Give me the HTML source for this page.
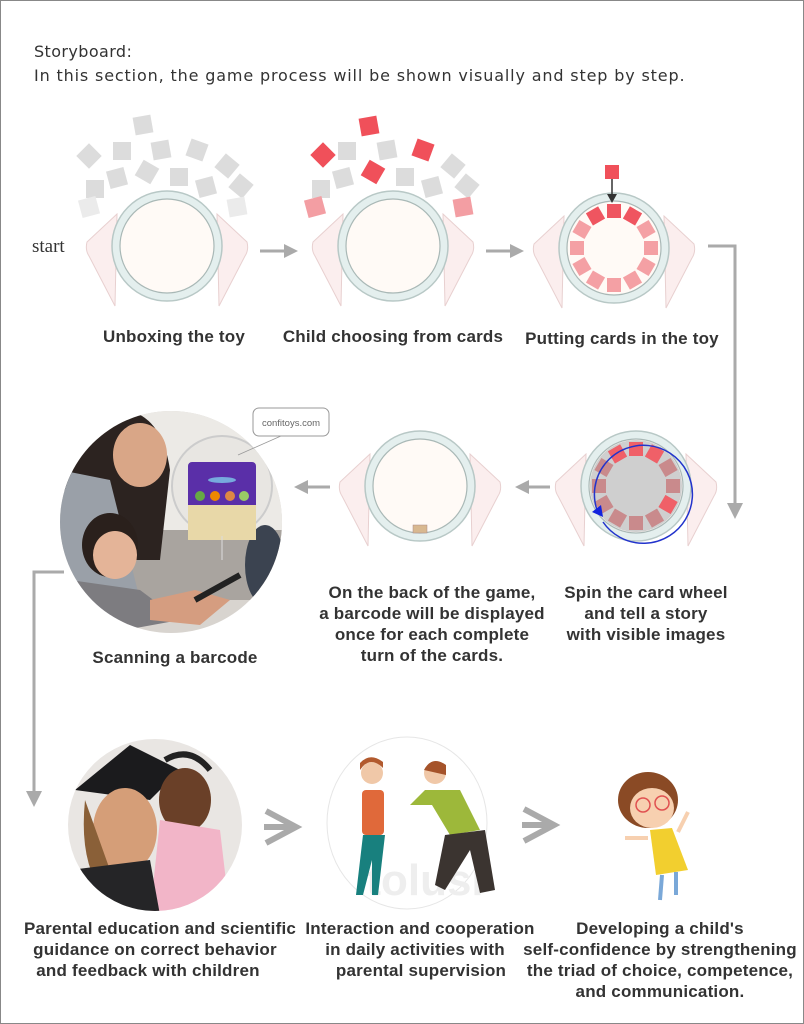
<!DOCTYPE html>
<html><head><meta charset="utf-8"><style>
html,body{margin:0;padding:0;background:#fff}
svg{display:block}
text{font-family:"Liberation Sans",sans-serif}
.l{font-weight:bold;font-size:17px;fill:#333;text-anchor:middle;letter-spacing:0.2px}
</style></head><body>
<svg width="804" height="1024" viewBox="0 0 804 1024" xmlns="http://www.w3.org/2000/svg">
<defs>
<g id="toy">
 <path d="M-50,-32 L-80,-4 Q-82,4 -78,10 L-52,60 Z" fill="#fbeeee" stroke="#e8d0d0"/>
 <path d="M50,-32 L80,-4 Q82,4 78,10 L52,60 Z" fill="#fbeeee" stroke="#e8d0d0"/>
 <circle r="55" fill="#e4efee" stroke="#b8c8c6" stroke-width="1.5"/>
 <circle r="47" fill="#fffaf6" stroke="#a9b8b6" stroke-width="1.2"/>
</g>
<g id="ring">
 <g transform="rotate(0)"><rect x="-7" y="-44" width="14" height="14"/></g>
 <g transform="rotate(30)"><rect x="-7" y="-44" width="14" height="14"/></g>
 <g transform="rotate(60)"><rect x="-7" y="-44" width="14" height="14"/></g>
 <g transform="rotate(90)"><rect x="-7" y="-44" width="14" height="14"/></g>
 <g transform="rotate(120)"><rect x="-7" y="-44" width="14" height="14"/></g>
 <g transform="rotate(150)"><rect x="-7" y="-44" width="14" height="14"/></g>
 <g transform="rotate(180)"><rect x="-7" y="-44" width="14" height="14"/></g>
 <g transform="rotate(210)"><rect x="-7" y="-44" width="14" height="14"/></g>
 <g transform="rotate(240)"><rect x="-7" y="-44" width="14" height="14"/></g>
 <g transform="rotate(270)"><rect x="-7" y="-44" width="14" height="14"/></g>
 <g transform="rotate(300)"><rect x="-7" y="-44" width="14" height="14"/></g>
 <g transform="rotate(330)"><rect x="-7" y="-44" width="14" height="14"/></g>
</g>
<clipPath id="cp1"><circle cx="171" cy="522" r="111"/></clipPath>
<clipPath id="cp2"><ellipse cx="155" cy="825" rx="87" ry="86"/></clipPath>
</defs>
<rect x="0.5" y="0.5" width="803" height="1023" fill="#fff" stroke="#888"/>
<text x="34" y="57" style="font-family:'DejaVu Sans',sans-serif;font-size:16px;letter-spacing:0.4px" fill="#333">Storyboard:</text>
<text x="34" y="81" style="font-family:'DejaVu Sans',sans-serif;font-size:16px;letter-spacing:0.4px" fill="#333" textLength="651" lengthAdjust="spacing">In this section, the game process will be shown visually and step by step.</text>

<!-- toy 1 -->
<g fill="#dcdcdc">
<rect x="134" y="116" width="18" height="18" transform="rotate(-10 143 125)"/>
<rect x="80" y="147" width="18" height="18" transform="rotate(45 89 156)"/>
<rect x="113" y="142" width="18" height="18"/>
<rect x="152" y="141" width="18" height="18" transform="rotate(-10 161 150)"/>
<rect x="188" y="141" width="18" height="18" transform="rotate(20 197 150)"/>
<rect x="218" y="157" width="18" height="18" transform="rotate(40 227 166)"/>
<rect x="108" y="169" width="18" height="18" transform="rotate(-15 117 178)"/>
<rect x="138" y="163" width="18" height="18" transform="rotate(30 147 172)"/>
<rect x="170" y="168" width="18" height="18"/>
<rect x="197" y="178" width="18" height="18" transform="rotate(-15 206 187)"/>
<rect x="232" y="177" width="18" height="18" transform="rotate(40 241 186)"/>
<rect x="86" y="180" width="18" height="18"/>
<rect x="80" y="198" width="18" height="18" fill="#ebebeb" transform="rotate(-15 89 207)"/>
<rect x="228" y="198" width="18" height="18" fill="#ebebeb" transform="rotate(-10 237 207)"/>
</g>
<use href="#toy" x="167" y="246"/>
<text x="32" y="252" style="font-family:'Liberation Serif',serif;font-size:19px" fill="#333">start</text>

<!-- toy 2 -->
<g fill="#dcdcdc">
<rect x="314" y="146" width="18" height="18" transform="rotate(45 323 155)" fill="#f0505a"/>
<rect x="360" y="117" width="18" height="18" transform="rotate(-10 369 126)" fill="#f0505a"/>
<rect x="338" y="142" width="18" height="18"/>
<rect x="378" y="141" width="18" height="18" transform="rotate(-10 387 150)"/>
<rect x="414" y="141" width="18" height="18" transform="rotate(20 423 150)" fill="#f0505a"/>
<rect x="444" y="157" width="18" height="18" transform="rotate(40 453 166)"/>
<rect x="334" y="169" width="18" height="18" transform="rotate(-15 343 178)"/>
<rect x="364" y="163" width="18" height="18" transform="rotate(30 373 172)" fill="#f0505a"/>
<rect x="396" y="168" width="18" height="18"/>
<rect x="423" y="178" width="18" height="18" transform="rotate(-15 432 187)"/>
<rect x="458" y="177" width="18" height="18" transform="rotate(40 467 186)"/>
<rect x="312" y="180" width="18" height="18"/>
<rect x="306" y="198" width="18" height="18" fill="#f39ea3" transform="rotate(-15 315 207)"/>
<rect x="454" y="198" width="18" height="18" fill="#f39ea3" transform="rotate(-10 463 207)"/>
</g>
<use href="#toy" x="393" y="246"/>

<!-- toy 3 -->
<use href="#toy" x="614" y="248"/>
<g transform="translate(614 248)" fill="#f4a0a4"><use href="#ring"/></g>
<g transform="translate(614 248)" fill="#ef5560">
 <rect x="-7" y="-44" width="14" height="14"/>
 <g transform="rotate(30)"><rect x="-7" y="-44" width="14" height="14"/></g>
 <g transform="rotate(-30)"><rect x="-7" y="-44" width="14" height="14"/></g>
</g>
<rect x="605" y="165" width="14" height="14" fill="#f0505a"/>
<line x1="612" y1="179" x2="612" y2="197" stroke="#333" stroke-width="1.5"/>
<polygon points="607,194 617,194 612,203" fill="#333"/>

<g fill="#aaa" stroke="#aaa">
<line x1="260" y1="251" x2="286" y2="251" stroke-width="3"/><polygon points="284,244 298,251 284,258" stroke="none"/>
<line x1="486" y1="251" x2="512" y2="251" stroke-width="3"/><polygon points="510,244 524,251 510,258" stroke="none"/>
<polyline points="708,246 735,246 735,505" fill="none" stroke-width="3"/><polygon points="727,503 743,503 735,519" stroke="none"/>
</g>

<text class="l" x="174" y="342">Unboxing the toy</text>
<text class="l" x="393" y="342">Child choosing from cards</text>
<text class="l" x="622" y="344">Putting cards in the toy</text>

<use href="#toy" x="420" y="486"/>
<rect x="413" y="525" width="14" height="8" fill="#d8b890" stroke="#a88" stroke-width="0.5"/>
<use href="#toy" x="636" y="486"/>
<circle cx="636" cy="486" r="46" fill="#cfcfcf"/>
<g transform="translate(636 486)" fill="#c98a8c"><use href="#ring"/></g>
<g transform="translate(636 486)" fill="#f06068">
 <rect x="-7" y="-44" width="14" height="14"/>
 <g transform="rotate(30)"><rect x="-7" y="-44" width="14" height="14"/></g>
 <g transform="rotate(-30)"><rect x="-7" y="-44" width="14" height="14"/></g>
 <g transform="rotate(120)"><rect x="-7" y="-44" width="14" height="14"/></g>
</g>
<path d="M 597 510 A 49 49 0 1 1 603 522" fill="none" stroke="#2233cc" stroke-width="1.5"/>
<polygon points="592,512 601,505 603,517" fill="#1122dd"/>

<g fill="#aaa" stroke="#aaa">
<line x1="550" y1="487" x2="527" y2="487" stroke-width="3"/><polygon points="529,480 515,487 529,494" stroke="none"/>
<line x1="330" y1="487" x2="306" y2="487" stroke-width="3"/><polygon points="308,480 294,487 308,494" stroke="none"/>
<polyline points="64,572 34,572 34,793" fill="none" stroke-width="3"/><polygon points="26,791 42,791 34,807" stroke="none"/>
</g>

<g clip-path="url(#cp1)">
 <rect x="60" y="410" width="224" height="224" fill="#d8d4cf"/>
 <rect x="60" y="410" width="224" height="120" fill="#eceae6"/>
 <rect x="130" y="530" width="160" height="70" fill="#a9a49f"/>
 <ellipse cx="265" cy="565" rx="20" ry="40" fill="#3b4350"/>
 <path d="M100,410 Q160,400 170,470 L160,560 L80,560 L60,470 Z" fill="#2c2320"/>
 <ellipse cx="140" cy="455" rx="27" ry="32" fill="#d9a687"/>
 <path d="M60,470 L110,480 L140,600 L60,640 Z" fill="#9aa0a8"/>
 <ellipse cx="110" cy="545" rx="28" ry="32" fill="#2a201c"/>
 <ellipse cx="115" cy="555" rx="22" ry="24" fill="#e4b498"/>
 <path d="M70,580 L140,590 L180,620 L70,640 Z" fill="#7d7c80"/>
 <path d="M150,600 L195,590 L230,600 L200,625 L150,620 Z" fill="#d59d80"/>
 <line x1="195" y1="600" x2="240" y2="575" stroke="#222" stroke-width="6"/>
 <circle cx="222" cy="486" r="50" fill="#e8e6e2" stroke="#ccc" stroke-width="2"/>
 <rect x="188" y="462" width="68" height="78" rx="4" fill="#5a2fa8"/>
 <rect x="188" y="505" width="68" height="35" fill="#e8d8a8"/>
 <ellipse cx="222" cy="480" rx="14" ry="3" fill="#7ad"/>
 <circle cx="200" cy="496" r="5" fill="#6a4"/><circle cx="215" cy="496" r="5" fill="#e80"/><circle cx="230" cy="496" r="5" fill="#d84"/><circle cx="244" cy="496" r="5" fill="#9c6"/>
 <line x1="222" y1="536" x2="222" y2="560" stroke="#ddd"/>
</g>
<line x1="238" y1="455" x2="290" y2="432" stroke="#999" stroke-width="0.8"/>
<rect x="253" y="408" width="76" height="28" rx="6" fill="#fff" stroke="#999"/>
<text x="291" y="426" font-size="9.5" fill="#666" text-anchor="middle">confitoys.com</text>

<text class="l" x="175" y="663">Scanning a barcode</text>
<text class="l" x="432" y="598">On the back of the game,</text>
<text class="l" x="432" y="619">a barcode will be displayed</text>
<text class="l" x="432" y="640">once for each complete</text>
<text class="l" x="432" y="661">turn of the cards.</text>
<text class="l" x="646" y="598">Spin the card wheel</text>
<text class="l" x="646" y="619">and tell a story</text>
<text class="l" x="646" y="640">with visible images</text>

<g clip-path="url(#cp2)">
 <rect x="60" y="735" width="190" height="180" fill="#e9e6e3"/>
 <path d="M75,790 L130,745 L180,770 L150,800 Z" fill="#1b1b1d"/>
 <ellipse cx="125" cy="830" rx="32" ry="42" fill="#d59e78"/>
 <path d="M85,800 Q80,850 95,880 L110,870 Z" fill="#8a6038"/>
 <ellipse cx="185" cy="800" rx="26" ry="32" fill="#6a4028"/>
 <path d="M160,820 L220,830 L230,915 L150,915 Z" fill="#f2b5c8"/>
 <path d="M70,870 L150,860 L160,915 L70,915 Z" fill="#252527"/>
 <path d="M165,760 Q190,745 210,770" fill="none" stroke="#222" stroke-width="6"/>
</g>
<ellipse cx="407" cy="823" rx="80" ry="86" fill="#fff" stroke="#e6e6e6"/>
<text x="425" y="895" font-size="44" font-weight="bold" fill="#eee" text-anchor="middle">tolusi</text>
<circle cx="372" cy="773" r="11" fill="#f0c8a8"/><path d="M360,770 Q370,755 383,768 L383,762 Q370,752 360,763 Z" fill="#b25a2e"/>
<rect x="362" y="790" width="22" height="45" rx="4" fill="#e0693a"/>
<path d="M363,835 L385,835 L378,895 L372,895 L372,860 L363,895 L356,895 Z" fill="#18807e"/>
<circle cx="435" cy="773" r="11" fill="#f0c8a8"/><path d="M424,770 Q432,755 446,765 L446,775 Z" fill="#a5532a"/>
<path d="M425,790 L460,790 L480,830 L450,835 L432,805 L410,805 Z" fill="#9db83a"/>
<path d="M445,835 L485,830 L495,890 L480,893 L470,850 L445,890 L435,885 Z" fill="#3b3430"/>
<ellipse cx="648" cy="800" rx="30" ry="28" fill="#8a4a25"/>
<ellipse cx="652" cy="808" rx="22" ry="20" fill="#f7d0b0"/>
<circle cx="643" cy="805" r="7" fill="none" stroke="#e05050" stroke-width="1.5"/><circle cx="662" cy="803" r="7" fill="none" stroke="#e05050" stroke-width="1.5"/>
<path d="M650,830 L672,828 L688,870 L656,875 Z" fill="#f2cf2f"/>
<line x1="662" y1="875" x2="660" y2="900" stroke="#7aa8d8" stroke-width="4"/><line x1="676" y1="872" x2="676" y2="895" stroke="#7aa8d8" stroke-width="4"/>
<line x1="648" y1="838" x2="625" y2="838" stroke="#f7d0b0" stroke-width="4"/><line x1="678" y1="832" x2="688" y2="812" stroke="#f7d0b0" stroke-width="4"/>

<g fill="none" stroke="#aaa" stroke-width="6">
<polyline points="266,811 296,827 266,843"/><line x1="264" y1="827" x2="294" y2="827"/>
<polyline points="524,809 554,825 524,841"/><line x1="522" y1="825" x2="552" y2="825"/>
</g>

<text class="l" x="160" y="934">Parental education and scientific</text>
<text class="l" x="155" y="955">guidance on correct behavior</text>
<text class="l" x="148" y="976">and feedback with children</text>
<text class="l" x="420" y="934">Interaction and cooperation</text>
<text class="l" x="415" y="955">in daily activities with</text>
<text class="l" x="421" y="976">parental supervision</text>
<text class="l" x="660" y="934">Developing a child's</text>
<text class="l" x="660" y="955">self-confidence by strengthening</text>
<text class="l" x="660" y="976">the triad of choice, competence,</text>
<text class="l" x="660" y="997">and communication.</text>
</svg>
</body></html>
